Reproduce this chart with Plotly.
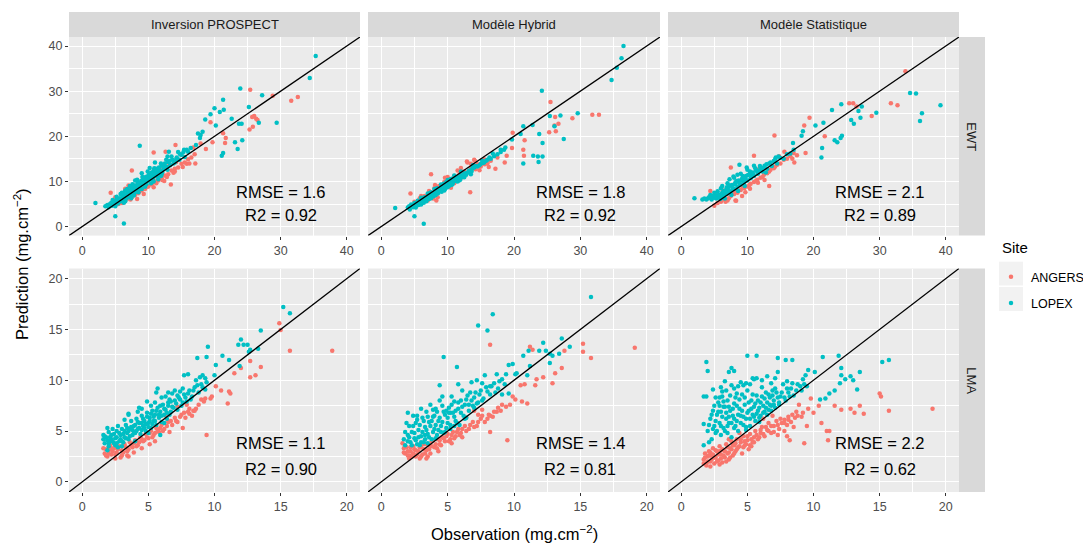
import plotly.graph_objects as go

# ---------------- data (Observation, Prediction) ----------------
models = ["Inversion PROSPECT", "Modèle Hybrid", "Modèle Statistique"]
variables = ["EWT", "LMA"]
sites = ["ANGERS", "LOPEX"]
site_colors = {"ANGERS": "#F8766D", "LOPEX": "#00BFC4"}

ewt_ticks = [0, 10, 20, 30, 40]
lma_ticks = [0, 5, 10, 15, 20]
ewt_limits = [0, 40]
lma_limits = [0, 20]

rmse_labels = {("EWT", 0): "1.6", ("EWT", 1): "1.8", ("EWT", 2): "2.1",
               ("LMA", 0): "1.1", ("LMA", 1): "1.4", ("LMA", 2): "2.2"}
r2_labels = {("EWT", 0): "0.92", ("EWT", 1): "0.92", ("EWT", 2): "0.89",
             ("LMA", 0): "0.90", ("LMA", 1): "0.81", ("LMA", 2): "0.62"}

ewt_prospect_angers = [
    (25.4, 30.3), (28.8, 29.0), (31.6, 27.9), (32.6, 28.7), (26.0, 24.5), (26.3, 23.9), (26.5, 23.6),
    (25.7, 24.3), (25.3, 21.5), (25.8, 22.1), (19.4, 23.1), (21.3, 20.7), (21.7, 19.6), (21.6, 18.5),
    (19.7, 18.7), (18.7, 17.2), (17.9, 18.4), (14.1, 18.1), (12.6, 16.6), (10.8, 16.4), (7.5, 12.4),
    (4.3, 7.5), (17.1, 14.0), (15.8, 13.9), (14.0, 12.2), (13.4, 9.3), (12.1, 10.3), (8.3, 6.1),
    (7.0, 9.1), (6.5, 8.4),
    (5.5, 5.0), (6.0, 5.2), (6.5, 5.8), (7.0, 6.2), (7.5, 6.5), (8.0, 7.0), (8.5, 7.4), (9.0, 8.0),
    (9.5, 8.3), (10.0, 8.9), (10.5, 9.3), (11.0, 9.8), (11.5, 10.2), (12.0, 10.8), (12.5, 11.3),
    (13.0, 11.6), (13.5, 12.4), (14.0, 12.8), (14.5, 13.1), (15.0, 13.9), (15.5, 14.2), (16.0, 14.9),
    (16.5, 15.3), (17.0, 16.0), (8.8, 9.6), (10.2, 11.3), (11.8, 12.6), (13.2, 13.8), (7.2, 7.9),
    (6.2, 6.8), (9.3, 7.2), (10.8, 8.7), (12.4, 10.1), (5.0, 6.5), (15.0, 15.9), (16.8, 17.5),
    (7.3, 6.0), (8.6, 7.9), (9.8, 8.8), (11.2, 9.6), (12.8, 11.0), (13.8, 11.9), (15.2, 13.2),
    (16.2, 14.0), (14.2, 14.3), (10.8, 10.4), (9.2, 9.1), (6.8, 6.9), (5.8, 6.0),
]
ewt_prospect_lopex = [
    (35.3, 37.8), (34.4, 32.9), (23.9, 30.6), (27.2, 29.1), (29.4, 23.0), (26.7, 23.0), (25.2, 26.5),
    (21.3, 28.1), (20.0, 26.2), (19.4, 24.9), (20.8, 25.4), (21.4, 25.9), (22.6, 23.9), (23.7, 22.8),
    (24.1, 22.8), (18.6, 23.7), (18.2, 21.0), (17.9, 20.3), (17.5, 20.6), (17.8, 19.6), (23.1, 18.7),
    (24.2, 19.1), (23.5, 17.2), (21.3, 16.3), (21.1, 15.7), (20.2, 22.4), (8.7, 17.9), (5.0, 2.3),
    (6.3, 0.7), (2.0, 5.2), (17.2, 18.1), (16.4, 17.4), (15.4, 17.0), (13.1, 16.6), (12.9, 15.5),
    (3.8, 4.8), (4.2, 5.0), (4.5, 4.6), (4.8, 5.5), (5.0, 5.2), (5.3, 6.0), (5.5, 5.4), (5.7, 6.3),
    (6.0, 5.9), (6.2, 6.8), (6.4, 6.2), (6.6, 7.0), (6.8, 6.5), (7.0, 7.6), (7.1, 6.9), (7.3, 8.1),
    (7.5, 7.3), (7.6, 8.4), (7.8, 7.8), (8.0, 8.8), (8.1, 8.0), (8.3, 9.2), (8.4, 8.5), (8.6, 9.6),
    (8.7, 8.9), (8.9, 10.1), (9.0, 9.3), (9.2, 10.4), (9.3, 9.6), (9.5, 10.9), (9.6, 9.9), (9.8, 11.1),
    (10.0, 10.3), (10.1, 11.6), (10.3, 10.6), (10.5, 12.0), (10.6, 11.0), (10.8, 12.3), (11.0, 11.4),
    (11.2, 12.8), (11.4, 11.8), (11.6, 13.1), (11.8, 12.2), (12.0, 13.5), (12.3, 12.7), (12.5, 14.0),
    (12.8, 13.2), (13.0, 14.3), (13.3, 13.6), (13.6, 14.8), (14.0, 14.2), (14.3, 15.3), (14.7, 14.8),
    (15.0, 15.9), (15.5, 15.4), (16.0, 16.6), (6.5, 8.0), (7.2, 9.0), (8.0, 10.2), (9.0, 11.8),
    (10.2, 13.0), (11.0, 14.2), (5.8, 7.2), (9.5, 8.8), (10.8, 10.0), (12.0, 11.5), (8.5, 7.6),
    (7.4, 6.3), (6.3, 5.3), (11.5, 10.5), (4.0, 4.3), (5.0, 4.5), (13.5, 15.5), (12.7, 14.8),
    (14.5, 16.5), (15.8, 17.0), (9.8, 10.0), (10.6, 11.8), (11.3, 12.1), (7.9, 9.1), (6.9, 7.8),
    (4.4, 5.3), (4.9, 4.9), (5.1, 5.8), (5.4, 5.1), (5.6, 6.1), (5.9, 5.6), (6.1, 6.4), (6.3, 7.4),
    (6.7, 6.2), (6.9, 7.2), (7.2, 7.0), (7.4, 7.7), (7.7, 8.8), (7.9, 7.4), (8.2, 8.7), (8.4, 9.7),
    (8.8, 8.4), (9.1, 9.8), (9.4, 10.3), (9.7, 9.4), (9.9, 10.6), (10.4, 11.2), (10.7, 10.4),
    (10.9, 11.8), (11.3, 11.1), (11.7, 12.5), (12.1, 12.0), (12.4, 13.2), (12.9, 12.6), (13.2, 14.5),
    (13.8, 14.0), (14.2, 14.9), (5.2, 6.6), (6.0, 7.5), (6.8, 8.3), (7.6, 9.4), (8.3, 10.4),
    (9.1, 11.0), (9.9, 12.2), (10.9, 12.9), (11.9, 14.0), (6.5, 5.6), (7.8, 6.9), (9.0, 8.3),
    (10.4, 9.6), (11.9, 11.2), (3.5, 4.5), (4.6, 5.9), (14.8, 16.0), (15.3, 16.5),
]

ewt_hybrid_angers = [
    (25.5, 27.6), (26.2, 24.3), (26.7, 22.8), (26.1, 22.4), (28.8, 24.0), (31.8, 24.8), (32.8, 24.8),
    (25.3, 20.9), (26.3, 21.1), (19.8, 20.8), (21.6, 19.1), (21.4, 17.0), (21.5, 15.7), (19.7, 17.4),
    (18.9, 15.7), (18.6, 14.2), (17.2, 12.8), (14.1, 14.6), (12.9, 14.4), (7.5, 11.6), (4.4, 7.3),
    (13.4, 7.6), (8.3, 5.8), (9.6, 9.6),
    (5.0, 5.5), (5.8, 6.3), (6.5, 6.8), (7.2, 7.9), (8.0, 8.5), (8.7, 9.0), (9.5, 9.9), (10.2, 10.5),
    (11.0, 11.2), (11.8, 11.6), (12.5, 12.2), (13.5, 13.0), (14.5, 13.8), (15.0, 13.3), (16.0, 14.0),
    (16.5, 14.6), (14.0, 14.8), (13.0, 14.2), (12.0, 13.0), (11.5, 12.4), (9.0, 8.0), (8.5, 6.5),
    (7.8, 6.2), (10.5, 8.6), (7.0, 5.8), (6.0, 6.8), (9.6, 10.8), (17.5, 15.3), (15.5, 14.9),
    (14.8, 12.5), (16.2, 13.2), (12.2, 10.9), (11.0, 9.6),
    (6.2, 5.4), (7.5, 6.9), (8.6, 8.1), (9.8, 9.2), (10.9, 10.1), (12.2, 11.7), (13.2, 12.1),
    (14.2, 12.7), (15.6, 13.8), (8.1, 9.2), (10.0, 11.0), (13.5, 13.9),
]
ewt_hybrid_lopex = [
    (36.5, 40.0), (36.2, 37.3), (35.5, 35.2), (34.7, 32.5), (24.2, 30.1), (25.4, 24.5), (27.0, 24.6),
    (29.6, 25.1), (26.1, 22.2), (23.8, 20.5), (24.3, 18.5), (27.5, 19.4), (21.4, 22.2), (22.8, 22.5),
    (21.0, 20.5), (21.4, 14.0), (23.6, 15.5), (23.7, 14.3), (24.3, 15.5), (22.9, 15.7), (19.7, 19.3),
    (2.1, 4.1), (5.0, 2.3), (6.4, 0.6), (18.7, 17.5), (18.0, 17.0),
    (4.0, 4.2), (4.3, 3.8), (4.6, 4.5), (5.0, 4.6), (5.2, 4.2), (5.5, 5.1), (5.8, 5.3), (6.0, 4.9),
    (6.3, 5.8), (6.6, 6.0), (6.8, 5.6), (7.0, 6.6), (7.3, 6.8), (7.5, 6.3), (7.8, 7.2), (8.0, 7.5),
    (8.2, 7.0), (8.5, 8.0), (8.7, 7.8), (9.0, 8.5), (9.2, 8.1), (9.5, 9.0), (9.7, 8.6), (10.0, 9.5),
    (10.2, 9.0), (10.5, 10.0), (10.8, 9.7), (11.0, 10.5), (11.3, 10.1), (11.5, 11.0), (11.8, 10.6),
    (12.0, 11.3), (12.3, 11.0), (12.6, 11.8), (13.0, 12.0), (13.3, 12.4), (13.7, 12.8), (14.0, 13.1),
    (14.5, 13.3), (15.0, 13.9), (15.5, 14.2), (16.0, 14.8), (16.5, 15.0), (17.0, 15.6), (17.5, 16.0),
    (18.0, 16.5), (18.5, 17.0), (6.0, 6.4), (7.0, 7.3), (8.0, 8.3), (9.0, 9.3), (10.0, 10.3),
    (11.0, 11.3), (12.0, 12.2), (9.5, 8.0), (10.5, 9.2), (8.5, 7.3), (11.5, 10.0), (12.5, 10.9),
    (13.5, 11.6), (7.5, 7.6), (6.5, 6.5), (5.5, 5.7), (4.5, 4.9), (9.8, 9.9), (10.6, 10.6),
    (13.8, 13.6), (15.2, 14.6), (16.8, 16.2),
    (4.2, 4.5), (4.8, 4.3), (5.3, 5.3), (5.6, 4.8), (6.1, 5.6), (6.4, 5.3), (6.9, 6.4), (7.2, 6.1),
    (7.6, 7.0), (7.9, 6.7), (8.3, 7.8), (8.6, 7.5), (8.9, 8.2), (9.3, 8.8), (9.6, 8.3), (9.9, 9.2),
    (10.3, 9.8), (10.7, 9.3), (11.1, 10.2), (11.4, 10.6), (11.7, 10.2), (12.1, 11.0), (12.4, 11.4),
    (12.8, 11.5), (13.2, 12.3), (13.6, 12.2), (14.2, 13.4), (14.8, 13.6), (15.3, 14.1), (15.8, 14.6),
    (16.3, 15.3), (6.2, 6.2), (7.3, 7.4), (8.4, 8.5), (9.4, 9.5), (10.4, 10.5), (5.0, 5.2),
    (5.9, 5.0), (9.1, 7.7), (10.0, 8.7), (11.9, 10.4),
]

ewt_stat_angers = [
    (33.9, 34.4), (25.4, 27.3), (26.0, 27.3), (26.5, 26.6), (31.7, 27.3), (32.7, 26.9), (28.8, 24.5),
    (19.4, 24.1), (14.1, 20.2), (11.0, 15.7), (7.5, 13.1), (4.4, 7.9), (18.6, 22.4), (21.7, 20.0),
    (18.8, 16.3), (17.1, 14.2), (13.3, 9.0), (8.2, 5.8), (15.6, 16.6),
    (5.0, 4.6), (5.5, 5.2), (6.0, 5.5), (6.5, 6.0), (7.0, 5.8), (7.5, 6.8), (8.0, 7.2), (8.5, 7.5),
    (9.0, 8.1), (9.5, 8.5), (10.0, 8.9), (10.5, 9.5), (11.0, 9.9), (11.5, 10.4), (12.0, 10.8),
    (12.5, 11.5), (13.0, 11.8), (13.5, 12.6), (14.0, 12.9), (14.5, 13.7), (15.0, 14.0), (15.5, 14.8),
    (16.0, 15.0), (16.5, 15.6), (17.0, 16.3), (17.5, 15.8), (8.3, 5.7), (9.2, 6.8), (6.3, 8.0),
    (11.8, 12.8), (12.6, 10.3), (10.4, 8.4), (14.8, 15.6),
    (7.2, 6.3), (8.2, 7.9), (9.3, 8.7), (10.3, 9.2), (11.3, 10.1), (12.3, 11.0), (13.3, 12.2),
    (14.2, 13.3), (6.7, 5.5), (9.7, 7.6), (11.6, 9.7), (16.8, 15.0),
]
ewt_stat_lopex = [
    (2.0, 6.3), (24.2, 27.1), (22.8, 25.8), (27.3, 26.6), (26.8, 25.6), (29.5, 25.2), (34.6, 29.6),
    (35.5, 29.5), (39.2, 26.9), (36.4, 25.1), (36.1, 23.4), (25.7, 23.6), (26.1, 22.8), (27.1, 24.1),
    (20.3, 22.4), (21.5, 23.0), (23.2, 19.1), (23.6, 18.7), (24.1, 19.6), (24.3, 20.1), (21.3, 17.4),
    (21.2, 15.3), (18.4, 21.1), (18.2, 20.1), (8.8, 13.7), (16.9, 18.5),
    (3.5, 6.2), (4.0, 6.2), (4.5, 6.3), (5.0, 6.4), (5.5, 6.5), (6.0, 6.7), (5.2, 7.0), (6.2, 7.5),
    (6.5, 7.0), (6.8, 8.2), (7.0, 7.3), (7.2, 8.8), (7.5, 7.8), (7.7, 9.2), (8.0, 8.3), (8.2, 9.8),
    (8.5, 8.8), (8.7, 10.2), (9.0, 9.3), (9.2, 10.6), (9.5, 9.8), (9.8, 11.2), (10.0, 10.2),
    (10.3, 11.6), (10.5, 10.7), (10.8, 12.0), (11.0, 11.2), (11.3, 12.5), (11.6, 11.7), (12.0, 13.0),
    (12.3, 12.2), (12.6, 13.5), (13.0, 12.8), (13.3, 14.0), (13.7, 13.4), (14.0, 14.5), (14.5, 14.0),
    (15.0, 15.2), (15.5, 15.0), (16.0, 16.0), (16.5, 16.2), (17.0, 17.0), (6.0, 8.5), (7.0, 9.6),
    (8.0, 10.8), (9.0, 11.7), (10.0, 12.6), (11.0, 13.5), (5.5, 7.8), (6.6, 6.2), (7.6, 7.0),
    (8.6, 7.9), (9.6, 9.0), (4.8, 6.8), (7.3, 10.5), (8.5, 11.5), (6.3, 6.4), (9.4, 10.2),
    (10.6, 11.3), (11.8, 12.4), (12.8, 12.0), (14.3, 15.3),
    (3.8, 6.0), (4.2, 6.5), (4.6, 6.0), (5.3, 6.2), (5.7, 7.1), (5.9, 6.1), (6.1, 7.0), (6.4, 7.9),
    (6.7, 7.4), (6.9, 8.7), (7.1, 8.1), (7.4, 9.1), (7.8, 8.5), (8.1, 9.4), (8.4, 10.1), (8.8, 9.6),
    (9.1, 10.2), (9.3, 11.2), (9.7, 10.6), (10.1, 11.4), (10.4, 12.2), (10.9, 11.5), (11.2, 12.9),
    (11.5, 12.1), (11.9, 13.4), (12.4, 13.0), (12.9, 13.8), (13.5, 14.2), (14.2, 14.9), (14.7, 15.5),
    (6.2, 9.0), (7.9, 11.1), (5.0, 7.5), (4.4, 7.0), (3.2, 6.0), (9.9, 13.1),
]

lma_prospect_angers = [
    (14.9, 15.6), (15.0, 14.95), (15.7, 12.9), (18.9, 12.9), (13.5, 11.3), (12.7, 11.9), (13.1, 10.5),
    (12.7, 10.3), (12.0, 11.2), (11.5, 10.7), (10.5, 9.0), (11.1, 8.9), (11.2, 8.7), (11.0, 7.7),
    (10.1, 9.4), (9.4, 4.6), (9.0, 8.1), (9.3, 8.2), (9.7, 8.2), (9.8, 8.4), (8.1, 7.2), (8.4, 7.0),
    (7.9, 7.6), (1.6, 3.3),
    (1.7, 2.8), (1.9, 2.5), (2.0, 3.1), (2.2, 2.7), (2.4, 3.3), (2.6, 2.9), (2.8, 3.5), (3.0, 2.6),
    (3.0, 3.1), (3.2, 3.7), (3.4, 3.0), (3.6, 3.9), (3.8, 3.4), (4.0, 4.1), (4.2, 3.6), (4.4, 4.4),
    (4.6, 4.0), (4.8, 4.7), (5.0, 4.3), (5.2, 5.0), (5.4, 4.6), (5.6, 5.3), (5.8, 4.9), (6.0, 5.6),
    (6.2, 5.2), (6.5, 5.9), (6.8, 5.6), (7.0, 6.3), (7.2, 5.9), (7.5, 6.6), (7.8, 6.3), (8.0, 6.9),
    (8.3, 6.5), (8.6, 7.2), (2.9, 2.4), (4.5, 3.3), (3.5, 2.5), (5.5, 4.0), (6.3, 6.5), (7.2, 7.4),
    (2.1, 3.6), (1.8, 3.2), (6.6, 4.9), (7.6, 5.3), (5.1, 3.7), (3.9, 2.9), (2.5, 2.3),
    (1.8, 2.6), (2.0, 2.8), (2.3, 3.0), (2.5, 2.7), (2.7, 3.2), (3.1, 2.9), (3.3, 3.4), (3.5, 3.2),
    (3.7, 3.6), (3.9, 3.8), (4.1, 3.5), (4.3, 3.9), (4.5, 4.2), (4.7, 4.1), (4.9, 4.4), (5.1, 4.8),
    (5.3, 4.4), (5.5, 4.8), (5.7, 5.1), (5.9, 5.3), (6.1, 5.0), (6.4, 5.5), (6.7, 6.0), (7.1, 6.0),
    (7.4, 6.4), (7.7, 6.8), (8.1, 6.7), (8.5, 7.0), (8.8, 7.6), (9.2, 7.9), (2.2, 3.3), (3.4, 2.6),
]
lma_prospect_lopex = [
    (15.2, 17.2), (15.7, 16.6), (13.5, 14.9), (12.0, 14.0), (12.2, 13.5), (12.5, 13.5), (11.8, 13.5),
    (12.7, 13.0), (12.6, 12.8), (13.3, 13.1), (10.6, 12.4), (11.1, 12.0), (9.5, 13.3), (8.7, 12.2),
    (9.4, 12.3), (10.1, 11.5), (10.0, 10.5), (9.1, 10.5), (9.3, 10.2), (8.9, 10.3), (7.7, 10.5),
    (8.0, 10.6), (11.9, 11.4), (5.7, 9.2), (5.6, 8.8), (4.3, 7.3), (3.5, 6.7), (1.9, 5.3), (5.9, 4.6),
    (6.3, 8.4), (6.5, 8.8), (7.6, 9.2), (7.0, 9.0), (4.9, 7.9), (1.6, 4.6), (1.6, 4.2),
    (1.7, 3.8), (1.8, 4.4), (2.0, 3.5), (2.1, 4.0), (2.2, 4.6), (2.4, 3.8), (2.5, 4.3), (2.6, 5.0),
    (2.8, 4.0), (2.9, 4.6), (3.0, 5.2), (3.1, 3.9), (3.2, 4.4), (3.3, 5.6), (3.4, 4.8), (3.5, 4.2),
    (3.6, 5.2), (3.7, 6.0), (3.8, 4.6), (3.9, 5.5), (4.0, 4.8), (4.1, 6.2), (4.2, 5.2), (4.3, 5.8),
    (4.4, 4.7), (4.5, 6.5), (4.6, 5.5), (4.7, 6.0), (4.8, 5.0), (4.9, 6.8), (5.0, 5.8), (5.1, 6.3),
    (5.2, 5.3), (5.3, 7.0), (5.4, 6.0), (5.5, 6.6), (5.6, 5.6), (5.7, 7.3), (5.8, 6.3), (5.9, 6.9),
    (6.0, 5.9), (6.1, 7.6), (6.2, 6.6), (6.3, 7.1), (6.4, 6.2), (6.5, 7.8), (6.7, 6.9), (6.8, 7.4),
    (7.0, 8.0), (7.2, 7.1), (7.3, 8.3), (7.5, 7.5), (7.7, 8.6), (7.9, 7.9), (8.1, 9.0), (8.3, 8.4),
    (8.5, 9.3), (8.8, 8.8), (9.0, 9.6), (9.3, 9.1), (2.3, 5.2), (2.7, 3.4), (3.0, 3.5), (1.9, 3.1),
    (4.5, 7.2), (5.5, 7.8), (6.0, 8.3), (6.8, 8.7), (3.5, 6.6), (4.0, 4.0), (5.0, 4.8), (6.2, 5.8),
    (2.0, 4.9), (2.7, 5.5), (3.2, 6.1), (4.2, 6.9), (5.2, 7.5), (6.6, 8.1), (7.4, 8.9), (8.6, 10.0),
    (1.7, 4.5), (1.9, 4.1), (2.0, 3.8), (2.1, 4.4), (2.3, 4.0), (2.4, 4.7), (2.5, 3.6), (2.6, 4.4),
    (2.8, 4.8), (2.9, 4.2), (3.0, 4.0), (3.1, 4.7), (3.3, 4.3), (3.4, 5.3), (3.5, 5.0), (3.6, 4.5),
    (3.7, 5.4), (3.8, 5.1), (3.9, 4.9), (4.0, 5.6), (4.1, 5.0), (4.2, 5.9), (4.3, 5.3), (4.5, 5.1),
    (4.5, 5.8), (4.6, 6.2), (4.7, 5.3), (4.8, 5.7), (4.9, 6.4), (5.0, 5.4), (5.1, 6.0), (5.2, 6.7),
    (5.3, 5.7), (5.4, 6.4), (5.5, 6.0), (5.6, 7.0), (5.8, 6.6), (5.9, 7.5), (6.0, 6.5), (6.2, 7.2),
    (6.4, 6.8), (6.5, 7.5), (6.6, 6.6), (6.7, 7.9), (6.9, 7.3), (7.1, 7.7), (7.2, 8.5), (7.4, 8.1),
    (7.6, 7.8), (7.8, 8.3), (8.0, 8.7), (8.2, 8.1), (8.4, 9.0), (8.7, 9.5), (9.1, 9.3), (9.4, 9.8),
    (3.2, 5.0), (2.2, 4.2), (2.6, 3.8),
]

lma_hybrid_angers = [
    (8.2, 13.5), (15.2, 13.6), (15.2, 12.8), (15.8, 12.2), (19.1, 13.2), (11.2, 13.3), (11.4, 13.0),
    (13.8, 12.9), (13.6, 11.2), (13.1, 10.7), (12.9, 9.7), (12.2, 10.3), (11.7, 10.1), (11.6, 9.5),
    (11.0, 7.7), (10.6, 7.9), (10.8, 9.6), (10.5, 9.5), (9.5, 4.1), (8.2, 4.9), (10.1, 8.1), (9.9, 8.4),
    (9.7, 7.6), (9.4, 7.4), (9.1, 7.6), (8.7, 6.9), (8.1, 6.6), (1.6, 3.8),
    (1.7, 3.3), (1.8, 2.8), (2.0, 3.0), (2.1, 2.6), (2.2, 3.4), (2.4, 2.8), (2.5, 3.2), (2.6, 2.5),
    (2.8, 3.0), (3.0, 3.4), (3.1, 2.7), (3.2, 3.7), (3.4, 3.1), (3.5, 2.5), (3.6, 3.6), (3.8, 4.0),
    (4.0, 3.4), (4.2, 4.2), (4.4, 3.7), (4.6, 4.4), (4.8, 4.0), (5.0, 4.7), (5.2, 4.2), (5.4, 4.9),
    (5.6, 4.5), (5.8, 5.2), (6.0, 4.8), (6.3, 5.5), (6.6, 5.2), (6.9, 5.9), (7.2, 5.5), (7.5, 6.2),
    (7.8, 5.9), (8.2, 6.5), (8.5, 6.9), (8.8, 7.3), (6.4, 6.3), (7.0, 7.0), (7.6, 7.1), (5.3, 3.8),
    (4.3, 3.0), (2.9, 2.3), (6.1, 4.4), (7.3, 6.6), (5.7, 5.8),
    (1.7, 2.9), (1.9, 3.4), (2.0, 2.6), (2.2, 3.0), (2.3, 2.5), (2.4, 3.5), (2.6, 3.1), (2.7, 2.7),
    (2.9, 3.4), (3.0, 2.5), (3.2, 3.2), (3.3, 2.8), (3.4, 3.7), (3.6, 3.2), (3.7, 2.8), (3.8, 3.5),
    (3.9, 4.1), (4.1, 3.7), (4.2, 3.3), (4.4, 4.1), (4.5, 3.6), (4.7, 4.3), (4.9, 4.5), (5.1, 4.0),
    (5.3, 4.6), (5.5, 4.3), (5.7, 4.9), (5.9, 4.6), (6.1, 5.2), (6.4, 5.0), (6.7, 5.6), (7.0, 5.4),
    (7.3, 5.9), (7.6, 6.5), (8.0, 6.2), (8.4, 6.4), (9.0, 7.0), (2.1, 2.3), (3.4, 2.3),
]
lma_hybrid_lopex = [
    (15.8, 18.2), (8.4, 16.5), (7.3, 15.4), (8.0, 14.9), (4.7, 12.3), (5.7, 11.3), (4.4, 9.5),
    (5.8, 9.6), (2.0, 6.8), (13.6, 14.1), (12.7, 12.6), (12.9, 12.4), (12.2, 13.7), (12.4, 12.9),
    (11.9, 12.9), (14.2, 13.3), (13.4, 12.6), (12.7, 11.7), (11.1, 12.9), (10.7, 12.4), (11.2, 11.4),
    (9.6, 11.5), (9.9, 11.6), (9.4, 10.6), (10.1, 10.6), (10.2, 10.7), (8.7, 10.6), (11.0, 10.5),
    (7.6, 9.7), (8.2, 9.4), (9.1, 8.6), (9.6, 8.7), (5.2, 6.8),
    (1.7, 4.2), (1.8, 3.6), (2.0, 4.6), (2.1, 5.5), (2.2, 3.9), (2.3, 4.9), (2.5, 4.3), (2.6, 5.8),
    (2.7, 3.7), (2.8, 5.1), (3.0, 4.5), (3.1, 6.3), (3.2, 3.9), (3.3, 5.4), (3.4, 6.9), (3.5, 4.7),
    (3.6, 5.9), (3.8, 4.2), (3.9, 6.4), (4.0, 5.2), (4.1, 7.2), (4.2, 4.6), (4.3, 6.0), (4.5, 5.5),
    (4.6, 7.5), (4.7, 4.8), (4.8, 6.6), (5.0, 5.8), (5.1, 7.3), (5.2, 5.2), (5.4, 6.8), (5.5, 7.9),
    (5.6, 6.0), (5.8, 7.2), (5.9, 5.6), (6.0, 8.0), (6.2, 6.5), (6.3, 7.6), (6.5, 8.5), (6.6, 7.0),
    (6.8, 8.0), (7.0, 7.3), (7.1, 8.8), (7.3, 7.8), (7.5, 9.0), (7.7, 8.2), (7.9, 9.3), (8.2, 8.6),
    (8.5, 9.7), (8.8, 9.2), (9.1, 10.1), (2.4, 6.5), (3.0, 7.2), (2.9, 3.6), (3.7, 7.6), (4.4, 8.0),
    (5.3, 8.4), (6.1, 9.0), (3.5, 3.8), (4.1, 4.3), (4.8, 4.9), (5.5, 5.5), (1.9, 5.8), (6.8, 9.8),
    (7.8, 10.5), (2.7, 6.1), (3.3, 4.2), (4.9, 7.0), (6.4, 6.3), (7.2, 10.0),
    (1.8, 4.9), (2.0, 4.0), (2.1, 4.4), (2.3, 3.6), (2.4, 5.5), (2.5, 4.8), (2.6, 4.1), (2.8, 4.4),
    (2.9, 5.6), (3.0, 3.9), (3.1, 4.9), (3.2, 6.0), (3.3, 4.6), (3.4, 5.1), (3.5, 6.4), (3.6, 4.4),
    (3.7, 5.5), (3.8, 6.0), (3.9, 4.9), (4.0, 6.5), (4.1, 5.6), (4.2, 6.9), (4.3, 5.1), (4.4, 6.3),
    (4.5, 4.9), (4.6, 5.9), (4.7, 6.9), (4.9, 5.3), (5.0, 6.3), (5.1, 6.8), (5.2, 5.6), (5.3, 7.6),
    (5.5, 6.4), (5.6, 7.0), (5.7, 5.8), (5.8, 7.8), (6.0, 6.8), (6.1, 7.4), (6.3, 6.2), (6.4, 8.1),
    (6.6, 7.6), (6.7, 8.8), (6.9, 7.5), (7.0, 8.3), (7.2, 7.7), (7.4, 8.6), (7.6, 8.0), (8.0, 8.9),
    (8.3, 9.4), (8.6, 8.8), (8.9, 9.9), (9.3, 9.6), (3.9, 7.1), (2.7, 6.5), (4.6, 8.4),
]

lma_stat_angers = [
    (15.0, 8.7), (15.1, 8.4), (19.0, 7.2), (15.7, 7.0), (13.5, 7.5), (13.8, 6.7), (12.8, 7.2),
    (13.1, 6.8), (12.1, 7.1), (11.6, 7.5), (10.4, 7.5), (11.0, 5.0), (11.2, 5.0), (11.1, 4.1),
    (9.3, 3.8), (9.8, 8.2), (10.6, 5.8), (9.1, 6.4), (8.7, 6.9), (8.1, 6.4), (8.4, 6.6), (7.8, 6.1),
    (8.0, 4.5), (8.2, 4.1),
    (1.7, 2.2), (1.8, 2.8), (1.9, 1.8), (2.0, 2.5), (2.1, 3.0), (2.2, 2.0), (2.3, 2.6), (2.4, 3.3),
    (2.5, 1.8), (2.6, 2.4), (2.7, 3.0), (2.8, 2.1), (2.9, 3.5), (3.0, 2.7), (3.1, 1.9), (3.2, 3.1),
    (3.3, 2.4), (3.4, 3.7), (3.5, 2.8), (3.6, 2.2), (3.7, 3.3), (3.8, 4.0), (3.9, 2.6), (4.0, 3.6),
    (4.1, 3.0), (4.2, 4.2), (4.3, 3.4), (4.5, 3.9), (4.6, 2.8), (4.7, 4.5), (4.8, 3.6), (5.0, 4.1),
    (5.1, 3.2), (5.2, 4.7), (5.4, 3.9), (5.5, 4.4), (5.6, 5.0), (5.8, 4.2), (6.0, 4.8), (6.1, 5.4),
    (6.3, 4.5), (6.5, 5.1), (6.6, 5.8), (6.8, 4.8), (7.0, 5.5), (7.2, 6.0), (7.4, 5.2), (7.6, 5.8),
    (7.8, 5.0), (8.0, 5.6), (8.3, 5.9), (8.6, 6.3), (4.4, 4.8), (3.6, 4.2), (6.2, 6.2), (1.9, 1.6),
    (2.2, 1.5), (2.9, 1.7), (5.3, 3.5), (6.9, 6.5), (9.5, 5.5), (10.0, 6.8), (8.9, 7.6), (7.3, 4.6),
    (1.7, 1.8), (1.8, 2.4), (2.0, 2.0), (2.1, 2.6), (2.2, 2.9), (2.3, 2.2), (2.4, 2.7), (2.5, 2.4),
    (2.6, 3.1), (2.7, 2.0), (2.8, 2.7), (2.9, 3.0), (3.0, 2.3), (3.1, 3.2), (3.2, 2.6), (3.3, 3.0),
    (3.4, 2.0), (3.5, 3.4), (3.6, 2.9), (3.7, 2.4), (3.8, 3.2), (3.9, 3.6), (4.0, 2.8), (4.1, 3.8),
    (4.2, 3.2), (4.4, 3.5), (4.5, 4.2), (4.7, 3.4), (4.8, 4.0), (4.9, 3.7), (5.0, 4.5), (5.2, 3.6),
    (5.3, 4.2), (5.5, 3.9), (5.7, 4.6), (5.9, 4.4), (6.0, 5.1), (6.2, 4.7), (6.4, 5.4), (6.6, 5.0),
    (6.8, 5.5), (7.0, 4.9), (7.3, 5.6), (7.5, 6.2), (7.8, 5.8), (8.1, 6.1), (8.5, 5.4), (8.8, 6.5),
    (9.2, 6.8), (9.6, 7.2),
]
lma_stat_lopex = [
    (1.9, 11.8), (2.0, 10.9), (1.7, 8.4), (1.9, 8.4), (1.7, 5.7), (1.7, 3.6), (5.0, 12.4), (5.7, 12.4),
    (7.3, 12.2), (7.9, 12.0), (8.4, 12.0), (10.7, 12.3), (11.9, 12.4), (15.2, 11.8), (15.7, 12.0),
    (3.8, 11.2), (3.6, 10.8), (4.0, 10.9), (4.7, 9.5), (4.9, 9.7), (5.7, 10.2), (5.4, 10.2), (7.1, 10.2),
    (9.4, 10.5), (9.6, 11.0), (10.1, 10.8), (12.1, 11.2), (12.1, 10.5), (12.8, 10.4), (13.5, 10.8),
    (12.0, 9.7), (12.4, 10.1), (13.0, 10.0), (13.3, 9.1), (11.2, 8.7), (10.9, 8.2), (10.5, 8.1),
    (11.6, 9.0), (3.1, 8.4), (2.9, 7.5), (3.2, 7.4), (4.0, 9.2), (4.2, 8.7),
    (2.0, 5.0), (2.2, 6.2), (2.4, 7.0), (2.5, 5.5), (2.6, 4.8), (2.7, 6.6), (2.8, 7.8), (2.9, 5.8),
    (3.0, 4.6), (3.0, 6.9), (3.1, 8.9), (3.2, 5.3), (3.3, 7.4), (3.4, 6.2), (3.5, 8.0), (3.5, 4.8),
    (3.6, 5.8), (3.7, 7.0), (3.8, 9.5), (3.9, 6.5), (4.0, 5.3), (4.0, 7.7), (4.1, 8.3), (4.2, 6.0),
    (4.3, 5.0), (4.4, 7.2), (4.5, 6.5), (4.6, 8.6), (4.7, 5.6), (4.8, 7.6), (4.9, 6.2), (5.0, 9.0),
    (5.1, 7.0), (5.2, 5.5), (5.3, 8.0), (5.4, 6.6), (5.5, 7.4), (5.6, 6.0), (5.7, 8.5), (5.8, 7.0),
    (5.9, 6.3), (6.0, 7.8), (6.1, 9.3), (6.2, 6.8), (6.3, 8.2), (6.4, 7.3), (6.5, 6.6), (6.6, 8.6),
    (6.7, 7.6), (6.8, 7.0), (6.9, 9.0), (7.0, 8.0), (7.1, 7.3), (7.2, 8.8), (7.4, 7.8), (7.5, 8.4),
    (7.7, 9.6), (7.9, 8.0), (8.1, 8.8), (8.3, 9.2), (8.5, 8.5), (8.8, 9.6), (9.1, 9.0), (9.3, 9.6),
    (2.3, 4.2), (2.1, 3.9), (5.5, 10.1), (6.5, 10.4), (4.5, 9.8), (3.3, 9.9), (2.6, 8.3), (3.8, 4.4),
    (5.9, 5.9), (4.9, 5.1), (6.8, 9.7), (8.0, 9.9), (3.0, 9.3),
    (2.1, 5.6), (2.3, 6.6), (2.4, 5.2), (2.5, 7.5), (2.6, 6.0), (2.7, 5.0), (2.8, 6.9), (2.9, 8.3),
    (3.0, 5.5), (3.1, 6.4), (3.2, 7.9), (3.3, 5.0), (3.4, 6.8), (3.5, 5.5), (3.6, 7.4), (3.6, 6.4),
    (3.7, 8.5), (3.8, 5.8), (3.9, 7.2), (4.0, 6.2), (4.1, 5.5), (4.2, 7.5), (4.3, 6.6), (4.4, 8.1),
    (4.5, 5.8), (4.6, 7.0), (4.7, 6.4), (4.8, 8.3), (4.9, 5.4), (5.0, 6.8), (5.1, 7.8), (5.2, 6.2),
    (5.3, 7.2), (5.4, 8.6), (5.5, 6.4), (5.6, 7.7), (5.7, 6.7), (5.8, 8.0), (5.9, 7.3), (6.0, 6.5),
    (6.1, 8.4), (6.2, 7.5), (6.3, 6.9), (6.4, 8.8), (6.5, 7.8), (6.6, 7.1), (6.7, 8.3), (6.8, 7.5),
    (6.9, 8.5), (7.0, 7.6), (7.1, 9.2), (7.3, 8.3), (7.4, 7.6), (7.6, 8.8), (7.8, 8.3), (8.0, 9.2),
    (8.2, 8.4), (8.4, 9.7), (8.7, 9.0), (9.0, 9.4), (9.2, 10.1), (9.5, 9.4), (2.4, 9.1), (3.4, 9.0),
    (4.3, 9.4), (5.2, 9.6), (6.1, 10.0), (7.3, 10.8),
]

panel_data = {
    ("EWT", 0): {"ANGERS": ewt_prospect_angers, "LOPEX": ewt_prospect_lopex},
    ("EWT", 1): {"ANGERS": ewt_hybrid_angers, "LOPEX": ewt_hybrid_lopex},
    ("EWT", 2): {"ANGERS": ewt_stat_angers, "LOPEX": ewt_stat_lopex},
    ("LMA", 0): {"ANGERS": lma_prospect_angers, "LOPEX": lma_prospect_lopex},
    ("LMA", 1): {"ANGERS": lma_hybrid_angers, "LOPEX": lma_hybrid_lopex},
    ("LMA", 2): {"ANGERS": lma_stat_angers, "LOPEX": lma_stat_lopex},
}

# ---------------- layout geometry (pixels of the 1091x545 window) ----------------
PAGE_OFFSET = 8  # default body margin of the html page
W, H = 1091 - PAGE_OFFSET, 545 - PAGE_OFFSET
col_px = [(69, 360), (368, 660), (668, 959)]
row_px = [(37, 235.6), (268.5, 492)]
strip_top_px = (12, 37)
strip_right_px = (959, 985)


def px_x(p):
    return (p - PAGE_OFFSET) / W


def px_y(p):
    return 1 - (p - PAGE_OFFSET) / H


FONT = "Liberation Sans, Arial, Helvetica, sans-serif"
fig = go.Figure()
layout = dict(
    width=W, height=H, margin=dict(l=0, r=0, t=0, b=0),
    paper_bgcolor="white", plot_bgcolor="#EBEBEB",
    font=dict(family=FONT, color="#1A1A1A"),
    showlegend=True,
)
shapes = []
annotations = []

for r, var in enumerate(variables):
    limits = ewt_limits if var == "EWT" else lma_limits
    ticks = ewt_ticks if var == "EWT" else lma_ticks
    pad = 0.05 * (limits[1] - limits[0])
    rng = [limits[0] - pad, limits[1] + pad]
    step = ticks[1] - ticks[0]
    for c, model in enumerate(models):
        i = r * 3 + c + 1
        sfx = "" if i == 1 else str(i)
        xa, ya = "x" + sfx, "y" + sfx
        for site in sites:
            pts = panel_data[(var, c)][site]
            fig.add_trace(go.Scatter(
                x=[p[0] for p in pts], y=[p[1] for p in pts], mode="markers",
                marker=dict(color=site_colors[site], size=4.5, line=dict(width=0)),
                name=site, legendgroup=site, showlegend=(i == 1),
                xaxis=xa, yaxis=ya, hoverinfo="skip",
            ))
        common = dict(
            range=rng, tickmode="linear", tick0=ticks[0], dtick=step,
            showgrid=True, gridcolor="white", gridwidth=1.1, zeroline=False, showline=False,
            minor=dict(tick0=ticks[0] + step / 2, dtick=step, showgrid=True,
                       gridcolor="white", gridwidth=0.5, ticks=""),
            tickfont=dict(family=FONT, size=12.5, color="#4D4D4D"),
            ticklen=3, tickwidth=1, tickcolor="#333333", automargin=False,
        )
        layout["xaxis" + sfx] = dict(
            common, domain=[px_x(col_px[c][0]), px_x(col_px[c][1])], anchor=ya,
            ticks="outside", showticklabels=True,
        )
        layout["yaxis" + sfx] = dict(
            common, domain=[px_y(row_px[r][1]), px_y(row_px[r][0])], anchor=xa,
            ticks="outside" if c == 0 else "", showticklabels=(c == 0),
        )
        # 1:1 reference line
        shapes.append(dict(type="line", xref=xa, yref=ya, x0=rng[0], y0=rng[0], x1=rng[1], y1=rng[1],
                           line=dict(color="black", width=1.3), layer="above"))
        # statistics text
        ax_x = limits[1] * 0.75
        annotations.append(dict(xref=xa, yref=ya, x=ax_x, y=limits[1] * 0.19, showarrow=False,
                                xanchor="center", yanchor="middle",
                                text="RMSE = " + rmse_labels[(var, c)],
                                font=dict(family=FONT, size=16.5, color="black")))
        annotations.append(dict(xref=xa, yref=ya, x=ax_x, y=limits[1] * 0.0625, showarrow=False,
                                xanchor="center", yanchor="middle",
                                text="R2 = " + r2_labels[(var, c)],
                                font=dict(family=FONT, size=16.5, color="black")))

# facet strips (top: models, right: variables)
for c, model in enumerate(models):
    shapes.append(dict(type="rect", xref="paper", yref="paper", x0=px_x(col_px[c][0]), x1=px_x(col_px[c][1]),
                       y0=px_y(strip_top_px[1]), y1=px_y(strip_top_px[0]), fillcolor="#D9D9D9",
                       line=dict(width=0), layer="below"))
    annotations.append(dict(xref="paper", yref="paper", x=px_x(sum(col_px[c]) / 2),
                            y=px_y(sum(strip_top_px) / 2), text=model, showarrow=False,
                            xanchor="center", yanchor="middle",
                            font=dict(family=FONT, size=13, color="#1A1A1A")))
for r, var in enumerate(variables):
    shapes.append(dict(type="rect", xref="paper", yref="paper", x0=px_x(strip_right_px[0]),
                       x1=px_x(strip_right_px[1]), y0=px_y(row_px[r][1]), y1=px_y(row_px[r][0]),
                       fillcolor="#D9D9D9", line=dict(width=0), layer="below"))
    annotations.append(dict(xref="paper", yref="paper", x=px_x(sum(strip_right_px) / 2),
                            y=px_y(sum(row_px[r]) / 2), text=var, textangle=90, showarrow=False,
                            xanchor="center", yanchor="middle",
                            font=dict(family=FONT, size=13, color="#1A1A1A")))

# axis titles
annotations.append(dict(xref="paper", yref="paper", x=px_x(514), y=px_y(533),
                        xanchor="center", yanchor="middle",
                        text="Observation (mg.cm<sup>−2</sup>)", showarrow=False,
                        font=dict(family=FONT, size=16.5, color="black")))
annotations.append(dict(xref="paper", yref="paper", x=px_x(21), y=px_y(264),
                        xanchor="center", yanchor="middle",
                        text="Prediction (mg.cm<sup>−2</sup>)", textangle=-90, showarrow=False,
                        font=dict(family=FONT, size=16.5, color="black")))

# legend title and key backgrounds
annotations.append(dict(xref="paper", yref="paper", x=px_x(1000), y=px_y(248),
                        xanchor="left", yanchor="middle", text="Site", showarrow=False,
                        font=dict(family=FONT, size=15, color="black")))
for k, (y0, y1) in enumerate([(261.7, 285.5), (287, 311)]):
    shapes.append(dict(type="rect", xref="paper", yref="paper", x0=px_x(999), x1=px_x(1023),
                       y0=px_y(y1), y1=px_y(y0), fillcolor="#F2F2F2", line=dict(width=0), layer="below"))

layout["shapes"] = shapes
layout["annotations"] = annotations
layout["legend"] = dict(
    x=px_x(991), y=px_y(262), xanchor="left", yanchor="top",
    font=dict(family=FONT, size=12.5, color="black"), bgcolor="rgba(0,0,0,0)",
    tracegroupgap=7,
)
fig.update_layout(**layout)
fig.write_html("out.html")
